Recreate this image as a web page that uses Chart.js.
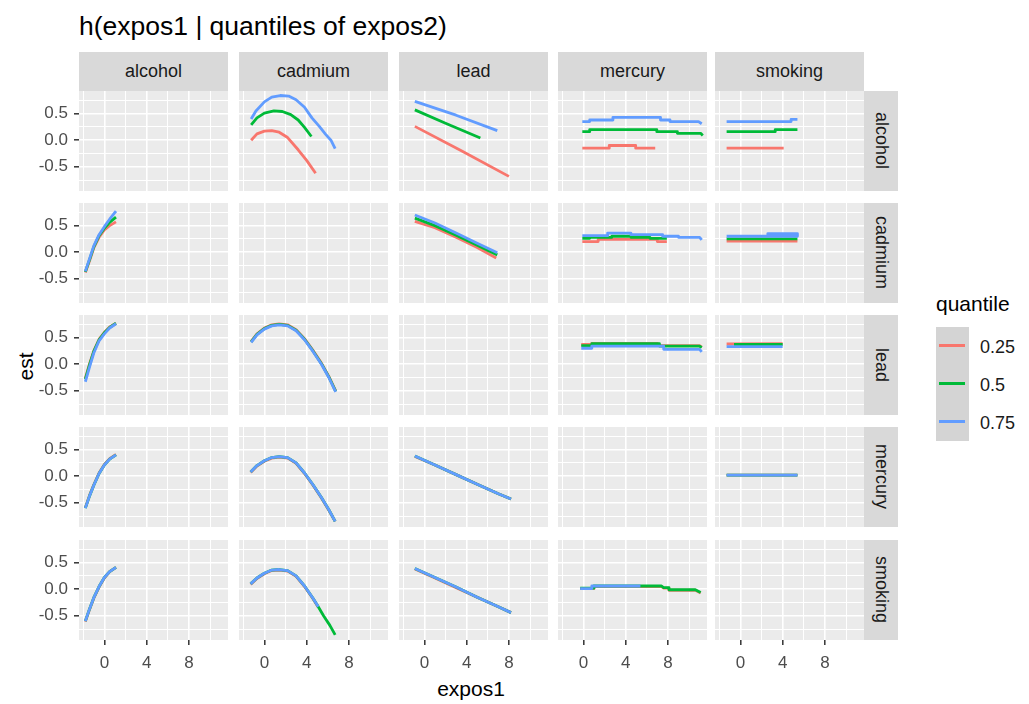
<!DOCTYPE html>
<html>
<head>
<meta charset="utf-8">
<script src="https://cdn.jsdelivr.net/npm/chart.js@4.4.1/dist/chart.umd.min.js"></script>
<style>
  body { margin: 0; background: #fff; font-family: "Liberation Sans", Arial, sans-serif; }
  #wrap { position: relative; width: 1029px; height: 704px; overflow: hidden; }
  #wrap canvas { position: absolute; }
  .txt { position: absolute; white-space: nowrap; line-height: 1; color: #000; }
  .strip { position: absolute; background: #D9D9D9; color: #1A1A1A; font-size: 18px;
           display: flex; align-items: center; justify-content: center; }
  .strip.right { writing-mode: vertical-rl; }
  .key { position: absolute; left: 936px; width: 33px; height: 38px; background: #D4D4D4; }
  .key span { position: absolute; left: 3px; right: 4px; top: 17px; height: 3px; }
  .klab { position: absolute; left: 980px; font-size: 18px; line-height: 1; color: #1A1A1A; }
</style>
</head>
<body>
<div id="wrap">
  <div class="txt" style="left:79px; top:13px; font-size:26.5px;">h(expos1 | quantiles of expos2)</div>
  <div class="txt" style="left:0; top:356px; width:50px; text-align:center; font-size:21px; transform:rotate(-90deg);">est</div>
  <div class="txt" style="left:371px; top:678px; width:200px; text-align:center; font-size:21px;">expos1</div>
  <div class="txt" style="left:936px; top:293px; font-size:21px;">quantile</div>
</div>
<script>
const variables = ["alcohol", "cadmium", "lead", "mercury", "smoking"];
const quantiles = ["0.25", "0.5", "0.75"];
const colors = ["#F8766D", "#00BA38", "#619CFF"];

const xMajor = [0, 4, 8];
const xMinor = [-2, 2, 6, 10];
const yMajor = [-0.5, 0, 0.5];
const yMinor = [-0.75, -0.25, 0.25, 0.75];
const xRange = [-2.4, 11.7];
const yRange = [-0.955, 0.925];

// one panel = [q 0.25, q 0.5, q 0.75], points are [expos1, est]
// name: <expos1>_given_<expos2>

// expos2 = alcohol
const cadmium_given_alcohol = [
    [[-1.25, 0.0], [-0.7, 0.12], [0, 0.17], [0.7, 0.18], [1.4, 0.15], [2.2, 0.05], [3.2, -0.18], [4.0, -0.38], [4.85, -0.62]],
    [[-1.25, 0.29], [-0.7, 0.42], [0, 0.51], [0.9, 0.55], [1.7, 0.54], [2.5, 0.48], [3.2, 0.38], [3.8, 0.24], [4.45, 0.07]],
    [[-1.25, 0.40], [-0.8, 0.55], [0, 0.72], [0.7, 0.81], [1.5, 0.84], [2.3, 0.83], [3.0, 0.76], [3.8, 0.62], [4.5, 0.42], [5.2, 0.26], [5.8, 0.11], [6.3, 0.0], [6.7, -0.16]]
];
const lead_given_alcohol = [
    [[-0.9, 0.26], [3.5, -0.2], [8.0, -0.68]],
    [[-0.9, 0.57], [2.0, 0.32], [5.3, 0.04]],
    [[-0.9, 0.73], [3.0, 0.47], [6.9, 0.18]]
];
const mercury_given_alcohol = [
    [[-0.1, -0.15], [2.45, -0.15], [2.45, -0.1], [4.95, -0.1], [4.95, -0.15], [6.8, -0.15]],
    [[-0.1, 0.16], [0.6, 0.16], [0.6, 0.2], [6.95, 0.2], [6.95, 0.16], [8.9, 0.16], [8.9, 0.13], [11.1, 0.13], [11.3, 0.09]],
    [[-0.1, 0.35], [0.6, 0.35], [0.6, 0.38], [2.8, 0.38], [2.8, 0.43], [7.3, 0.43], [7.3, 0.38], [8.2, 0.38], [8.2, 0.35], [10.9, 0.35], [11.2, 0.31]]
];
const smoking_given_alcohol = [
    [[-1.3, -0.15], [4.1, -0.15]],
    [[-1.3, 0.16], [3.3, 0.16], [3.3, 0.2], [5.4, 0.2]],
    [[-1.3, 0.35], [4.8, 0.35], [4.8, 0.39], [5.4, 0.39]]
];

// expos2 = cadmium
const alcohol_given_cadmium = [
    [[-1.8, -0.38], [-1.4, -0.16], [-1.0, 0.08], [-0.5, 0.28], [0, 0.42], [0.5, 0.5], [1.1, 0.57]],
    [[-1.8, -0.37], [-1.4, -0.14], [-1.0, 0.1], [-0.5, 0.31], [0, 0.45], [0.5, 0.56], [1.1, 0.66]],
    [[-1.8, -0.36], [-1.4, -0.12], [-1.0, 0.12], [-0.5, 0.33], [0, 0.48], [0.5, 0.62], [1.1, 0.77]]
];
const lead_given_cadmium = [
    [[-0.9, 0.58], [1, 0.46], [3, 0.28], [5, 0.09], [6.8, -0.11]],
    [[-0.9, 0.64], [1, 0.5], [3, 0.32], [5, 0.13], [6.9, -0.05]],
    [[-0.9, 0.70], [1, 0.55], [3, 0.36], [5, 0.17], [6.9, -0.01]]
];
const mercury_given_cadmium = [
    [[-0.1, 0.2], [1.4, 0.2], [1.4, 0.24], [7.0, 0.24], [7.0, 0.2], [7.9, 0.2]],
    [[-0.1, 0.26], [0.6, 0.26], [0.6, 0.28], [2.7, 0.28], [2.7, 0.30], [4.5, 0.30], [4.5, 0.28], [6.3, 0.28], [6.3, 0.26], [7.9, 0.26]],
    [[-0.1, 0.31], [2.3, 0.31], [2.3, 0.36], [4.5, 0.36], [4.5, 0.33], [7.5, 0.33], [7.5, 0.30], [9.0, 0.30], [9.0, 0.28], [11.0, 0.28], [11.2, 0.23]]
];
const smoking_given_cadmium = [
    [[-1.3, 0.21], [5.4, 0.21]],
    [[-1.3, 0.25], [5.4, 0.25]],
    [[-1.3, 0.30], [2.6, 0.30], [2.6, 0.35], [5.4, 0.35], [5.4, 0.30], [2.6, 0.30]]
];

// expos2 = lead
const alcohol_given_lead = [
    [[-1.8, -0.26], [-1.4, 0.01], [-1.0, 0.25], [-0.5, 0.47], [0, 0.6], [0.5, 0.7], [1.1, 0.77]],
    [[-1.8, -0.28], [-1.4, -0.01], [-1.0, 0.24], [-0.5, 0.46], [0, 0.59], [0.5, 0.69], [1.1, 0.77]],
    [[-1.8, -0.33], [-1.4, -0.05], [-1.0, 0.21], [-0.5, 0.44], [0, 0.57], [0.5, 0.68], [1.1, 0.76]]
];
const cadmium_given_lead = [
    [[-1.25, 0.43], [-0.7, 0.57], [0, 0.68], [0.7, 0.74], [1.4, 0.76], [2.2, 0.74], [3, 0.65], [3.8, 0.48], [4.6, 0.26], [5.4, 0.02], [6.1, -0.23], [6.75, -0.5]],
    [[-1.25, 0.42], [-0.7, 0.56], [0, 0.67], [0.7, 0.73], [1.4, 0.75], [2.2, 0.73], [3, 0.64], [3.8, 0.47], [4.6, 0.25], [5.4, 0.01], [6.1, -0.24], [6.75, -0.51]],
    [[-1.25, 0.41], [-0.7, 0.55], [0, 0.66], [0.7, 0.72], [1.4, 0.74], [2.2, 0.72], [3, 0.63], [3.8, 0.46], [4.6, 0.24], [5.4, 0.0], [6.1, -0.25], [6.75, -0.52]]
];
const mercury_given_lead = [
    [[-0.2, 0.37], [0.8, 0.37], [0.8, 0.39], [7.0, 0.39], [7.0, 0.35], [11.0, 0.35], [11.2, 0.32]],
    [[-0.2, 0.35], [0.8, 0.35], [0.8, 0.385], [7.2, 0.385], [7.2, 0.34], [11.0, 0.34], [11.2, 0.31]],
    [[-0.2, 0.30], [0.8, 0.30], [0.8, 0.34], [7.6, 0.34], [7.6, 0.28], [11.0, 0.28], [11.2, 0.23]]
];
const smoking_given_lead = [
    [[-1.3, 0.38], [4.0, 0.385]],
    [[-0.6, 0.37], [4.0, 0.37]],
    [[-1.3, 0.33], [4.0, 0.33]]
];

// expos2 = mercury
const alcohol_given_mercury = [
    [[-1.8, -0.59], [-1.4, -0.36], [-1.0, -0.16], [-0.5, 0.06], [0, 0.22], [0.5, 0.33], [1.1, 0.41]],
    [[-1.8, -0.6], [-1.4, -0.37], [-1.0, -0.17], [-0.5, 0.05], [0, 0.21], [0.5, 0.32], [1.1, 0.4]],
    [[-1.8, -0.6], [-1.4, -0.37], [-1.0, -0.17], [-0.5, 0.05], [0, 0.21], [0.5, 0.32], [1.1, 0.4]]
];
const cadmium_given_mercury = [
    [[-1.3, 0.07], [-0.7, 0.19], [0, 0.28], [0.7, 0.34], [1.4, 0.36], [2.2, 0.34], [3, 0.24], [3.8, 0.05], [4.6, -0.17], [5.4, -0.41], [6.1, -0.64], [6.7, -0.85]],
    [[-1.3, 0.08], [-0.7, 0.2], [0, 0.29], [0.7, 0.35], [1.4, 0.37], [2.2, 0.35], [3, 0.25], [3.8, 0.06], [4.6, -0.16], [5.4, -0.40], [6.1, -0.63], [6.7, -0.85]],
    [[-1.3, 0.08], [-0.7, 0.2], [0, 0.29], [0.7, 0.35], [1.4, 0.37], [2.2, 0.35], [3, 0.25], [3.8, 0.06], [4.6, -0.16], [5.4, -0.40], [6.1, -0.63], [6.7, -0.85]]
];
const lead_given_mercury = [
    [[-0.9, 0.37], [1, 0.21], [3, 0.03], [5, -0.15], [7, -0.33], [8.2, -0.43]],
    [[-0.9, 0.38], [1, 0.21], [3, 0.03], [5, -0.15], [7, -0.33], [8.2, -0.43]],
    [[-0.9, 0.38], [1, 0.21], [3, 0.03], [5, -0.15], [7, -0.33], [8.2, -0.43]]
];
const smoking_given_mercury = [
    [[-1.3, 0.02], [5.4, 0.02]],
    [[-1.3, 0.02], [5.4, 0.02]],
    [[-1.3, 0.02], [5.4, 0.02]]
];

// expos2 = smoking
const alcohol_given_smoking = [
    [[-1.8, -0.61], [-1.4, -0.38], [-1.0, -0.17], [-0.5, 0.04], [0, 0.21], [0.5, 0.33], [1.1, 0.41]],
    [[-1.8, -0.6], [-1.4, -0.37], [-1.0, -0.16], [-0.5, 0.05], [0, 0.22], [0.5, 0.33], [1.1, 0.41]],
    [[-1.8, -0.6], [-1.4, -0.37], [-1.0, -0.16], [-0.5, 0.05], [0, 0.22], [0.5, 0.33], [1.1, 0.41]]
];
const cadmium_given_smoking = [
    [[-1.3, 0.09], [-0.7, 0.2], [0, 0.29], [0.7, 0.35], [1.4, 0.36], [2.2, 0.34], [3, 0.24], [3.8, 0.05], [4.6, -0.18], [5.1, -0.34]],
    [[-1.3, 0.1], [-0.7, 0.21], [0, 0.3], [0.7, 0.36], [1.4, 0.37], [2.2, 0.35], [3, 0.25], [3.8, 0.06], [4.6, -0.17], [5.1, -0.33], [5.6, -0.5], [6.2, -0.68], [6.7, -0.86]],
    [[-1.3, 0.1], [-0.7, 0.21], [0, 0.3], [0.7, 0.36], [1.4, 0.37], [2.2, 0.35], [3, 0.25], [3.8, 0.06], [4.6, -0.17], [5.1, -0.33]]
];
const lead_given_smoking = [
    [[-0.9, 0.38], [1, 0.21], [3, 0.03], [5, -0.15], [7, -0.33], [8.2, -0.44]],
    [[-0.9, 0.39], [1, 0.22], [3, 0.04], [5, -0.15], [7, -0.33], [8.2, -0.44]],
    [[-0.9, 0.39], [1, 0.22], [3, 0.04], [5, -0.15], [7, -0.33], [8.2, -0.44]]
];
const mercury_given_smoking = [
    [[-0.3, 0.01], [1.0, 0.01], [1.0, 0.05], [7.4, 0.05], [7.6, 0.02], [8.1, 0.02], [8.1, -0.02], [10.6, -0.02], [11.1, -0.07]],
    [[-0.3, 0.02], [1.0, 0.02], [1.0, 0.06], [7.4, 0.06], [7.6, 0.03], [8.1, 0.03], [8.1, -0.01], [10.6, -0.01], [11.1, -0.06]],
    [[-0.3, 0.01], [0.8, 0.01], [0.8, 0.06], [5.4, 0.06]]
];

// lookup "expos1|expos2" -> panel series
const panels = {
    "cadmium|alcohol": cadmium_given_alcohol, "lead|alcohol": lead_given_alcohol,
    "mercury|alcohol": mercury_given_alcohol, "smoking|alcohol": smoking_given_alcohol,
    "alcohol|cadmium": alcohol_given_cadmium, "lead|cadmium": lead_given_cadmium,
    "mercury|cadmium": mercury_given_cadmium, "smoking|cadmium": smoking_given_cadmium,
    "alcohol|lead": alcohol_given_lead, "cadmium|lead": cadmium_given_lead,
    "mercury|lead": mercury_given_lead, "smoking|lead": smoking_given_lead,
    "alcohol|mercury": alcohol_given_mercury, "cadmium|mercury": cadmium_given_mercury,
    "lead|mercury": lead_given_mercury, "smoking|mercury": smoking_given_mercury,
    "alcohol|smoking": alcohol_given_smoking, "cadmium|smoking": cadmium_given_smoking,
    "lead|smoking": lead_given_smoking, "mercury|smoking": mercury_given_smoking
};

// layout of the grid
const colLeft = [79, 239, 399, 558, 715];
const rowTop = [91, 203, 315, 427, 540];
const panelW = 149;
const panelH = 100;

const wrap = document.getElementById("wrap");
const fontFamily = "'Liberation Sans', Arial, sans-serif";

const panelBackground = {
    id: "panelBackground",
    beforeDraw(chart) {
        const a = chart.chartArea;
        chart.ctx.save();
        chart.ctx.fillStyle = "#EBEBEB";
        chart.ctx.fillRect(a.left, a.top, a.right - a.left, a.bottom - a.top);
        chart.ctx.restore();
    }
};

function criarPainel(r, c) {
    const series = panels[variables[c] + "|" + variables[r]];
    const padL = c === 0 ? 50 : 0;
    const padB = r === 4 ? 40 : 0;

    const canvas = document.createElement("canvas");
    canvas.width = panelW + padL;
    canvas.height = panelH + padB;
    canvas.style.left = (colLeft[c] - padL) + "px";
    canvas.style.top = rowTop[r] + "px";
    wrap.appendChild(canvas);

    const datasets = [];
    if (series) {
        for (let i = 0; i < series.length; i++) {
            datasets.push({
                label: quantiles[i],
                data: series[i].map(p => ({ x: p[0], y: p[1] })),
                showLine: true,
                borderColor: colors[i],
                backgroundColor: colors[i],
                borderWidth: 2.8,
                pointRadius: 0,
                tension: 0,
                borderJoinStyle: "round",
                order: 3 - i
            });
        }
    }

    new Chart(canvas, {
        type: "scatter",
        data: { datasets: datasets },
        options: {
            responsive: false,
            animation: false,
            events: [],
            layout: { padding: 0 },
            plugins: { legend: { display: false }, tooltip: { enabled: false } },
            scales: {
                x: {
                    type: "linear",
                    min: xRange[0],
                    max: xRange[1],
                    afterBuildTicks: s => {
                        s.ticks = xMinor.concat(xMajor).sort((a, b) => a - b).map(v => ({ value: v }));
                    },
                    afterFit: s => {
                        s.height = padB;
                        s.paddingLeft = 0;
                        s.paddingRight = 0;
                    },
                    border: { display: false },
                    grid: {
                        color: "#FFFFFF",
                        lineWidth: ctx => xMajor.includes(ctx.tick.value) ? 1.6 : 1,
                        tickLength: 5,
                        tickWidth: 1.5,
                        tickColor: ctx => (padB && xMajor.includes(ctx.tick.value)) ? "#333333" : "rgba(0,0,0,0)"
                    },
                    ticks: {
                        display: padB > 0,
                        autoSkip: false,
                        maxRotation: 0,
                        padding: 8,
                        color: "#4D4D4D",
                        font: { family: fontFamily, size: 17 },
                        callback: v => xMajor.includes(v) ? String(v) : ""
                    }
                },
                y: {
                    type: "linear",
                    min: yRange[0],
                    max: yRange[1],
                    afterBuildTicks: s => {
                        s.ticks = yMinor.concat(yMajor).sort((a, b) => a - b).map(v => ({ value: v }));
                    },
                    afterFit: s => {
                        s.width = padL;
                        s.paddingTop = 0;
                        s.paddingBottom = 0;
                    },
                    border: { display: false },
                    grid: {
                        color: "#FFFFFF",
                        lineWidth: ctx => yMajor.includes(ctx.tick.value) ? 1.6 : 1,
                        tickLength: 5,
                        tickWidth: 1.5,
                        tickColor: ctx => (padL && yMajor.includes(ctx.tick.value)) ? "#333333" : "rgba(0,0,0,0)"
                    },
                    ticks: {
                        display: padL > 0,
                        autoSkip: false,
                        padding: 6,
                        color: "#4D4D4D",
                        font: { family: fontFamily, size: 17 },
                        callback: v => yMajor.includes(v) ? v.toFixed(1) : ""
                    }
                }
            }
        },
        plugins: [panelBackground]
    });
}

function montarGrade() {
    for (let c = 0; c < variables.length; c++) {
        wrap.insertAdjacentHTML("beforeend",
            `<div class="strip" style="left:${colLeft[c]}px; top:52px; width:${panelW}px; height:39px;">${variables[c]}</div>`);
    }
    for (let r = 0; r < variables.length; r++) {
        wrap.insertAdjacentHTML("beforeend",
            `<div class="strip right" style="left:${colLeft[4] + panelW}px; top:${rowTop[r]}px; width:34px; height:${panelH}px;">${variables[r]}</div>`);
    }
    for (let r = 0; r < variables.length; r++) {
        for (let c = 0; c < variables.length; c++) {
            criarPainel(r, c);
        }
    }

    // legend
    for (let i = 0; i < quantiles.length; i++) {
        const top = 327 + i * 38;
        wrap.insertAdjacentHTML("beforeend", `
            <div class="key" style="top:${top}px;"><span style="background:${colors[i]}"></span></div>
            <div class="klab" style="top:${top + 11}px;">${quantiles[i]}</div>
        `);
    }
}

document.addEventListener("DOMContentLoaded", montarGrade);
</script>
</body>
</html>
